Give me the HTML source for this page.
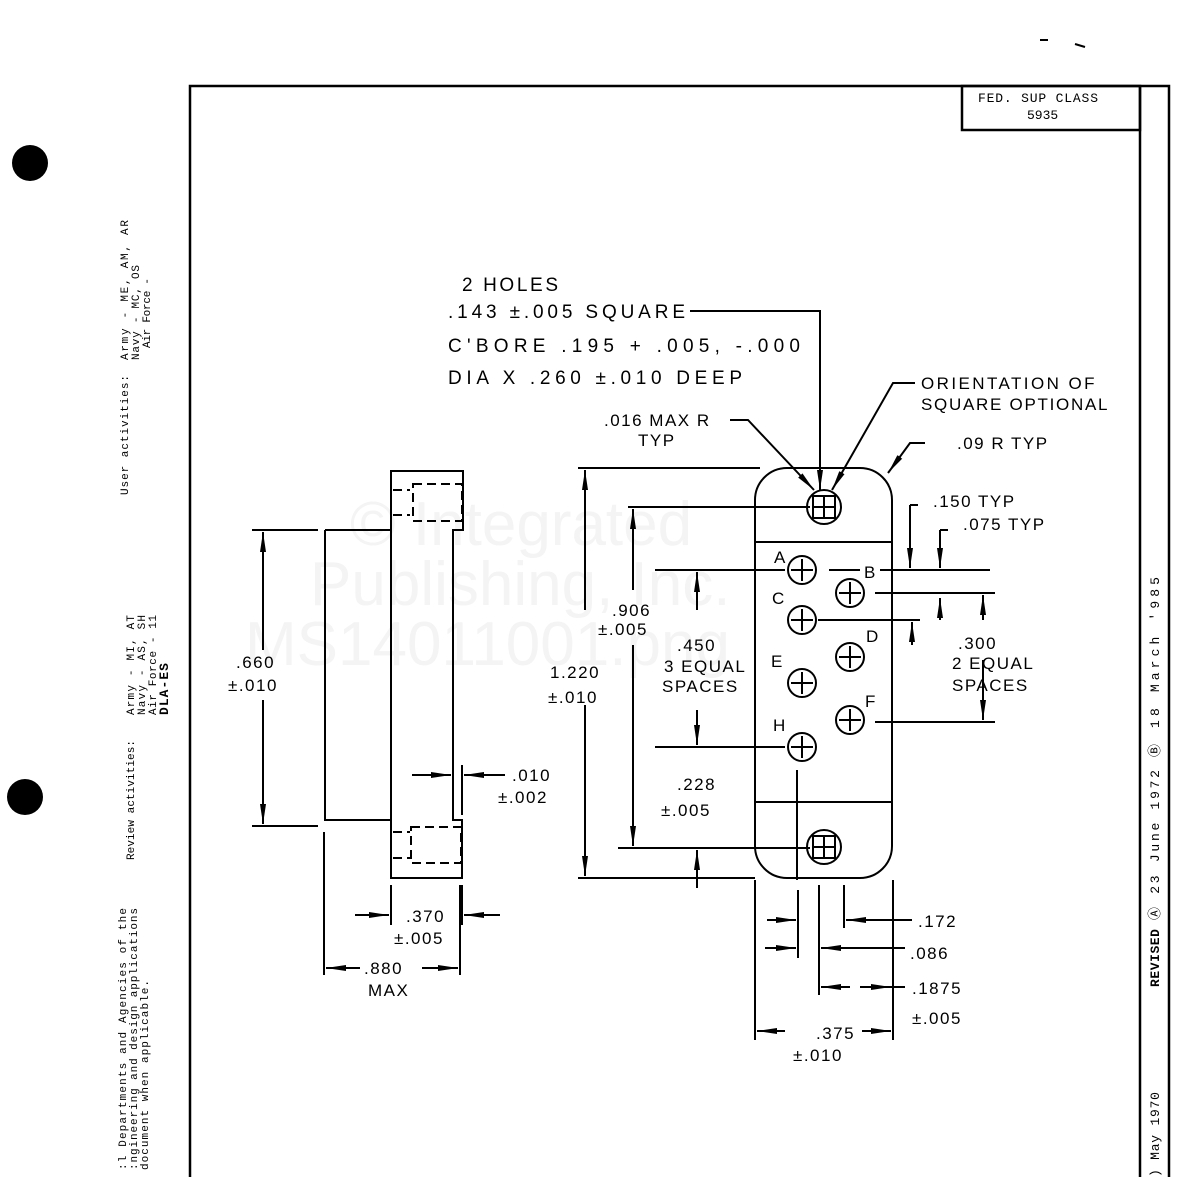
<!DOCTYPE html>
<html><head><meta charset="utf-8"><style>
html,body{margin:0;padding:0;background:#fff;}
svg{display:block;}
text{font-family:"Liberation Sans",sans-serif;fill:#000;}
.m text, text.m{font-family:"Liberation Mono","DejaVu Sans Mono",monospace;}
.lb text{letter-spacing:1.5px;}
</style></head><body>
<svg width="1186" height="1177" viewBox="0 0 1186 1177" xmlns="http://www.w3.org/2000/svg">
<defs>
<marker id="a" viewBox="0 0 20 8" refX="20" refY="4" markerWidth="20" markerHeight="8" markerUnits="userSpaceOnUse" orient="auto"><path d="M0,1 L20,4 L0,7 Z" fill="#000"/></marker>
</defs>
<!-- watermark -->
<g font-size="62">
<text x="350" y="545" style="fill:#f4f4f4">© Integrated</text>
<text x="310" y="605" style="fill:#f4f4f4">Publishing, Inc.</text>
<text x="245" y="665" style="fill:#f4f4f4">MS14011001.png</text>
</g>
<!-- punch holes -->
<circle cx="30" cy="163" r="18" fill="#000"/>
<circle cx="25" cy="797" r="18" fill="#000"/>
<!-- border -->
<g stroke="#000" fill="none" stroke-width="2.5">
<path d="M190,1177 V86 H1169 V1177"/>
<path d="M1140,86 V1177"/>
<rect x="962" y="86" width="178" height="44"/>
</g>
<text x="978" y="102" font-size="13" textLength="120" class="m">FED. SUP CLASS</text>
<text x="1027" y="119" font-size="13" class="m">5935</text>
<path d="M1040,40 h8 M1075,44 l10,3" stroke="#000" stroke-width="2"/>
<!-- left margin vertical text -->
<g font-size="11" class="m">
<text transform="translate(128,495) rotate(-90)" textLength="120">User activities:</text>
<text transform="translate(128,360) rotate(-90)" textLength="140">Army - ME, AM, AR</text>
<text transform="translate(139,360) rotate(-90)" textLength="95">Navy - MC, OS</text>
<text transform="translate(150,348) rotate(-90)" textLength="70">Air Force -</text>
<text transform="translate(134,860) rotate(-90)" textLength="120">Review activities:</text>
<text transform="translate(134,715) rotate(-90)" textLength="100">Army - MI, AT</text>
<text transform="translate(145,715) rotate(-90)" textLength="100">Navy - AS, SH</text>
<text transform="translate(156,715) rotate(-90)" textLength="100">Air Force - 11</text>
<text transform="translate(168,715) rotate(-90)" font-size="13" font-weight="bold" textLength="52">DLA-ES</text>
<text transform="translate(126,1170) rotate(-90)" textLength="262">:l Departments and Agencies of the</text>
<text transform="translate(137,1170) rotate(-90)" textLength="262">:ngineering and design applications</text>
<text transform="translate(148,1170) rotate(-90)" textLength="190">document when applicable.</text>
</g>
<g font-size="13" class="m">
<text transform="translate(1159,1177) rotate(-90)" textLength="85">) May 1970</text>
<text transform="translate(1159,987) rotate(-90)" font-weight="bold" textLength="58">REVISED</text>
<text transform="translate(1159,920) rotate(-90)" textLength="150">Ⓐ 23 June 1972</text>
<text transform="translate(1159,757) rotate(-90)" textLength="180">Ⓑ 18 March '985</text>
</g>
<g stroke="#000" fill="none" stroke-width="2">
<!-- side view -->
<path d="M325,530 H391 M325,530 V820 H391"/>
<path d="M391,471 H463 V530 H453 V820 H462 V878 H391 Z"/>
<g stroke-dasharray="9,5">
<rect x="413" y="484" width="49" height="37"/>
<rect x="411" y="827" width="50" height="36"/>
<path d="M393,490 H410 M393,515 H410 M393,832 H410 M393,858 H410"/>
</g>
<path d="M252,530 H318 M252,826 H318"/>
<path d="M263,650 V532" marker-end="url(#a)"/>
<path d="M263,700 V824" marker-end="url(#a)"/>
<path d="M324,832 V975 M460,885 V975"/>
<path d="M360,968 H326" marker-end="url(#a)"/>
<path d="M422,968 H458" marker-end="url(#a)"/>
<path d="M391,885 V925 M462,885 V925"/>
<path d="M355,915 H389" marker-end="url(#a)"/>
<path d="M500,915 H464" marker-end="url(#a)"/>
<path d="M412,775 H451" marker-end="url(#a)"/>
<path d="M505,775 H464" marker-end="url(#a)"/>
<path d="M462,765 V815"/>
<!-- front view -->
<rect x="755" y="468" width="137" height="410" rx="32" ry="32"/>
<path d="M755,542 H892 M755,802 H892"/>
<circle cx="824" cy="507" r="17"/><rect x="813" y="496" width="22" height="22"/>
<path d="M824,497 V517 M814,507 H834"/>
<circle cx="824" cy="847" r="17"/><rect x="813" y="836" width="22" height="22"/>
<path d="M824,837 V857 M814,847 H834"/>
<g>
<circle cx="802" cy="570" r="14"/><path d="M802,559 V581 M791,570 H813"/>
<circle cx="850" cy="593" r="14"/><path d="M850,582 V604 M839,593 H861"/>
<circle cx="802" cy="620" r="14"/><path d="M802,609 V631 M791,620 H813"/>
<circle cx="850" cy="657" r="14"/><path d="M850,646 V668 M839,657 H861"/>
<circle cx="802" cy="683" r="14"/><path d="M802,672 V694 M791,683 H813"/>
<circle cx="850" cy="720" r="14"/><path d="M850,709 V731 M839,720 H861"/>
<circle cx="802" cy="747" r="14"/><path d="M802,736 V758 M791,747 H813"/>
</g>
<path d="M797,770 V880"/>
<!-- extension lines -->
<path d="M578,468 H760 M578,878 H755 M628,507 H810 M618,848 H810"/>
<path d="M655,570 H785 M655,747 H785 M829,570 H860 M880,570 H990 M875,593 H995 M818,620 H920 M875,722 H995"/>
<path d="M585,610 V470" marker-end="url(#a)"/>
<path d="M585,705 V876" marker-end="url(#a)"/>
<path d="M633,590 V509" marker-end="url(#a)"/>
<path d="M633,645 V846" marker-end="url(#a)"/>
<path d="M697,610 V572" marker-end="url(#a)"/>
<path d="M697,710 V745" marker-end="url(#a)"/>
<path d="M697,888 V850" marker-end="url(#a)"/>
<path d="M910,505 H918 M910,505 V568" marker-end="url(#a)"/>
<path d="M940,530 H948 M940,530 V568" marker-end="url(#a)"/>
<path d="M912,645 V622" marker-end="url(#a)"/>
<path d="M940,620 V598" marker-end="url(#a)"/>
<path d="M983,620 V595" marker-end="url(#a)"/>
<path d="M983,660 V720" marker-end="url(#a)"/>
<!-- bottom dims -->
<path d="M755,880 V1040 M893,880 V1040 M798,890 V958 M819,885 V995 M844,885 V928"/>
<path d="M767,920 H796" marker-end="url(#a)"/>
<path d="M912,920 H846" marker-end="url(#a)"/>
<path d="M765,948 H796" marker-end="url(#a)"/>
<path d="M905,948 H821" marker-end="url(#a)"/>
<path d="M850,987 H821" marker-end="url(#a)"/>
<path d="M860,987 H891" marker-end="url(#a)"/><path d="M891,987 H905"/>
<path d="M785,1031 H757" marker-end="url(#a)"/>
<path d="M862,1031 H891" marker-end="url(#a)"/>
<!-- leaders -->
<path d="M690,311 H820 V490" marker-end="url(#a)"/>
<path d="M915,383 H893 L832,490" marker-end="url(#a)"/>
<path d="M730,420 H748 L814,490" marker-end="url(#a)"/>
<path d="M925,443 H910 L888,473" marker-end="url(#a)"/>
</g>
<!-- labels -->
<g font-size="19">
<text x="462" y="291" textLength="96">2 HOLES</text>
<text x="448" y="318" textLength="237">.143 ±.005 SQUARE</text>
<text x="448" y="352" textLength="352">C'BORE .195 + .005, -.000</text>
<text x="448" y="384" textLength="294">DIA X .260 ±.010 DEEP</text>
</g>
<g font-size="17" class="lb">
<text x="921" y="389" textLength="175">ORIENTATION OF</text>
<text x="921" y="410" textLength="188">SQUARE OPTIONAL</text>
<text x="604" y="426">.016 MAX R</text>
<text x="638" y="446">TYP</text>
<text x="957" y="449">.09 R TYP</text>
<text x="933" y="507">.150 TYP</text>
<text x="963" y="530">.075 TYP</text>
<text x="774" y="563">A</text>
<text x="864" y="578">B</text>
<text x="772" y="604">C</text>
<text x="866" y="642">D</text>
<text x="771" y="667">E</text>
<text x="865" y="707">F</text>
<text x="773" y="731">H</text>
<text x="612" y="616">.906</text>
<text x="598" y="635">±.005</text>
<text x="677" y="651">.450</text>
<text x="664" y="672">3 EQUAL</text>
<text x="662" y="692">SPACES</text>
<text x="550" y="678">1.220</text>
<text x="548" y="703">±.010</text>
<text x="677" y="790">.228</text>
<text x="661" y="816">±.005</text>
<text x="958" y="649">.300</text>
<text x="952" y="669">2 EQUAL</text>
<text x="952" y="691">SPACES</text>
<text x="236" y="668">.660</text>
<text x="228" y="691">±.010</text>
<text x="512" y="781">.010</text>
<text x="498" y="803">±.002</text>
<text x="406" y="922">.370</text>
<text x="394" y="944">±.005</text>
<text x="364" y="974">.880</text>
<text x="368" y="996">MAX</text>
<text x="918" y="927">.172</text>
<text x="910" y="959">.086</text>
<text x="912" y="994">.1875</text>
<text x="912" y="1024">±.005</text>
<text x="816" y="1039">.375</text>
<text x="793" y="1061">±.010</text>
</g>
</svg>
</body></html>
